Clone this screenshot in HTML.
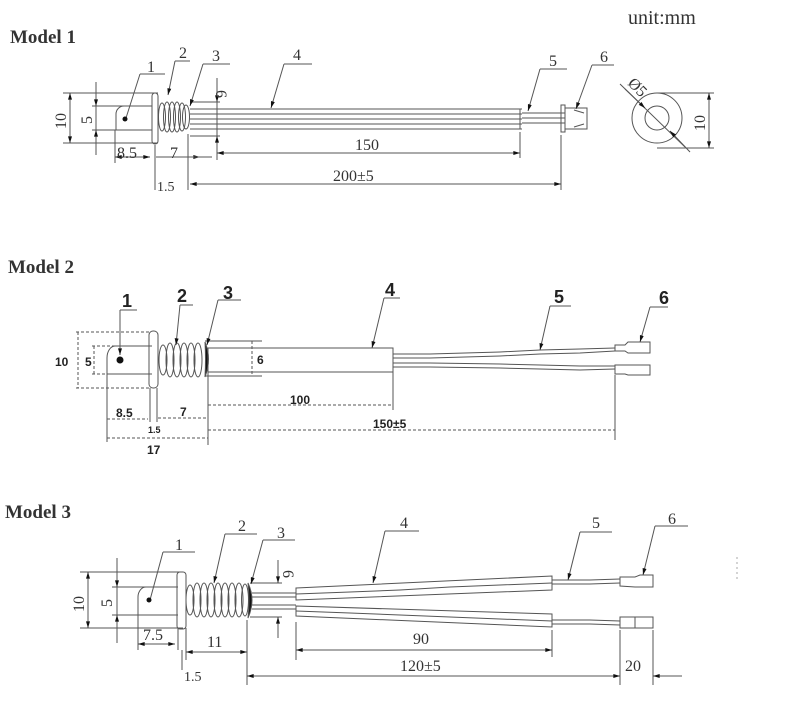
<!DOCTYPE html>
<html><head><meta charset="utf-8"><style>
html,body{margin:0;padding:0;background:#fff;}
svg{display:block}
.t{font-family:"Liberation Serif",serif;fill:#333}
.b{font-family:"Liberation Sans",sans-serif;font-weight:bold;fill:#222}
</style></head><body>
<svg width="801" height="714" viewBox="0 0 801 714" xmlns="http://www.w3.org/2000/svg">
<defs>
<marker id="a" viewBox="0 0 10 6" refX="10" refY="3" markerWidth="10" markerHeight="4" orient="auto-start-reverse" markerUnits="userSpaceOnUse"><path d="M0,0L10,3L0,6z" fill="#111"/></marker>
</defs>
<g stroke="#555" stroke-width="1" fill="none">
<!-- ===== MODEL 1 ===== -->
<line x1="63" y1="93" x2="158" y2="93"/><line x1="63" y1="143" x2="158" y2="143"/>
<line x1="70" y1="93" x2="70" y2="143" marker-start="url(#a)" marker-end="url(#a)"/>
<line x1="92" y1="106" x2="150" y2="106"/><line x1="92" y1="130" x2="150" y2="130"/>
<line x1="96" y1="82" x2="96" y2="155"/>
<line x1="96" y1="85" x2="96" y2="106" marker-end="url(#a)"/><line x1="96" y1="150" x2="96" y2="130" marker-end="url(#a)"/>
<path d="M152,106 H124 A8,8 0 0 0 116,114 V130 H152"/>
<rect x="152" y="93" width="6" height="51" rx="3"/>
<g>
<ellipse cx="162" cy="117" rx="3.5" ry="14"/><ellipse cx="167" cy="117" rx="3.5" ry="15"/><ellipse cx="172" cy="117" rx="3.5" ry="15"/><ellipse cx="177" cy="117" rx="3.5" ry="15"/><ellipse cx="182" cy="117" rx="3.5" ry="14"/><ellipse cx="186" cy="117" rx="3.5" ry="12"/>
</g>
<line x1="190" y1="109" x2="522" y2="109"/><line x1="190" y1="114" x2="522" y2="114"/>
<line x1="190" y1="119" x2="522" y2="119"/><line x1="190" y1="124" x2="522" y2="124"/><line x1="190" y1="129" x2="522" y2="129"/>
<line x1="217" y1="78" x2="217" y2="160"/><line x1="520" y1="109" x2="520" y2="129"/>
<line x1="522" y1="113" x2="565" y2="113"/><line x1="522" y1="118" x2="565" y2="118"/><line x1="522" y1="123" x2="565" y2="123"/>
<rect x="561" y="105" width="4" height="27"/>
<rect x="565" y="108" width="22" height="21"/>
<path d="M574,110 L584,113 M574,127 L584,124"/>
<line x1="190" y1="102" x2="220" y2="102"/><line x1="190" y1="136" x2="220" y2="136"/>
<line x1="217" y1="80" x2="217" y2="102" marker-end="url(#a)"/><line x1="217" y1="158" x2="217" y2="136" marker-end="url(#a)"/>
<line x1="115" y1="130" x2="115" y2="163"/><line x1="155" y1="145" x2="155" y2="190"/><line x1="188" y1="134" x2="188" y2="190"/>
<line x1="520" y1="132" x2="520" y2="158"/><line x1="561" y1="135" x2="561" y2="190"/>
<line x1="115" y1="157" x2="150" y2="157" marker-start="url(#a)" marker-end="url(#a)"/>
<line x1="156" y1="157" x2="200" y2="157" marker-end="url(#a)"/>
<line x1="188" y1="157" x2="212" y2="157"/>
<line x1="217" y1="153" x2="520" y2="153" marker-start="url(#a)" marker-end="url(#a)"/>
<line x1="190" y1="184" x2="561" y2="184" marker-start="url(#a)" marker-end="url(#a)"/>
<circle cx="657" cy="118" r="25"/><circle cx="657" cy="118" r="12"/>
<line x1="620" y1="84" x2="685" y2="147"/>
<line x1="657" y1="93" x2="714" y2="93"/><line x1="657" y1="148" x2="714" y2="148"/>
<line x1="709" y1="93" x2="709" y2="148" marker-start="url(#a)" marker-end="url(#a)"/>
<line x1="625" y1="89" x2="645" y2="108" marker-end="url(#a)"/>
<line x1="690" y1="152" x2="670" y2="131" marker-end="url(#a)"/>
<path d="M140,74 H165"/><line x1="140" y1="74" x2="126" y2="118"/>
<path d="M175,61 H190"/><line x1="175" y1="61" x2="168" y2="95" marker-end="url(#a)"/>
<path d="M203,64 H230"/><line x1="203" y1="64" x2="190" y2="106" marker-end="url(#a)"/>
<path d="M284,64 H312"/><line x1="284" y1="64" x2="271" y2="108" marker-end="url(#a)"/>
<path d="M540,69 H567"/><line x1="540" y1="69" x2="528" y2="111" marker-end="url(#a)"/>
<path d="M592,65 H614"/><line x1="592" y1="65" x2="576" y2="109" marker-end="url(#a)"/>

<!-- ===== MODEL 2 ===== -->
<g stroke-dasharray="3,2">
<path d="M76,332 H150 M76,388 H150 M78,332 V388"/>
<path d="M92,346 H150 M92,374 H150 M94,346 V374"/>
<line x1="252" y1="341" x2="252" y2="376"/>
<line x1="208" y1="405" x2="393" y2="405"/>
<line x1="208" y1="430" x2="615" y2="430"/>
<line x1="107" y1="419" x2="148" y2="419"/>
<line x1="158" y1="418" x2="208" y2="418"/>
<line x1="107" y1="438" x2="208" y2="438"/>
</g>
<path d="M152,346 H115 A8,12 0 0 0 107,358 V374 H152"/>
<rect x="149" y="331" width="9" height="57" rx="4"/>
<g>
<ellipse cx="163" cy="360" rx="4" ry="15"/><ellipse cx="170" cy="360" rx="4" ry="17"/><ellipse cx="177" cy="360" rx="4" ry="17"/><ellipse cx="184" cy="360" rx="4" ry="17"/><ellipse cx="191" cy="360" rx="4" ry="17"/><ellipse cx="198" cy="360" rx="4" ry="17"/>
</g>
<path d="M205,342 Q212,359 205,377 Q206,359 205,342 Z" fill="#111"/>
<path d="M205,341 H262 M205,376 H262"/>
<rect x="208" y="348" width="185" height="24"/>
<path d="M393,354 H430 L500,352 L540,350 L580,349 L615,348"/>
<path d="M393,358 H430 L500,356 L540,354 L580,353 L615,351"/>
<path d="M393,363 H430 L500,364 L540,365 L580,366 L615,366"/>
<path d="M393,367 H430 L500,368 L540,369 L580,370 L615,369"/>
<path d="M615,345 H625 L628,342 H650 V353 H628 L625,351 H615 Z"/>
<path d="M615,365 H625 L628,365 H650 V375 H628 L625,374 H615 Z"/>
<line x1="107" y1="374" x2="107" y2="442"/><line x1="150" y1="388" x2="150" y2="422"/><line x1="157" y1="388" x2="157" y2="422"/>
<line x1="208" y1="372" x2="208" y2="445"/><line x1="393" y1="372" x2="393" y2="410"/><line x1="615" y1="375" x2="615" y2="440"/>
<path d="M120,310 H137"/><line x1="120" y1="310" x2="120" y2="355" marker-end="url(#a)"/>
<path d="M180,305 H193"/><line x1="180" y1="305" x2="176" y2="345" marker-end="url(#a)"/>
<path d="M218,300 H241"/><line x1="218" y1="300" x2="207" y2="345" marker-end="url(#a)"/>
<path d="M384,298 H400"/><line x1="384" y1="298" x2="372" y2="348" marker-end="url(#a)"/>
<path d="M550,306 H571"/><line x1="550" y1="306" x2="540" y2="350" marker-end="url(#a)"/>
<path d="M650,307 H668"/><line x1="650" y1="307" x2="640" y2="342" marker-end="url(#a)"/>

<!-- ===== MODEL 3 ===== -->
<path d="M80,572 H183 M80,628 H183"/>
<line x1="88" y1="572" x2="88" y2="628" marker-start="url(#a)" marker-end="url(#a)"/>
<path d="M112,587 H178 M112,615 H178"/>
<line x1="117" y1="558" x2="117" y2="643"/>
<line x1="117" y1="562" x2="117" y2="587" marker-end="url(#a)"/><line x1="117" y1="640" x2="117" y2="615" marker-end="url(#a)"/>
<path d="M178,587 H146 A8,10 0 0 0 138,597 V615 H178"/>
<rect x="177" y="572" width="9" height="57" rx="3"/>
<g>
<ellipse cx="190" cy="600" rx="4" ry="15"/><ellipse cx="197" cy="600" rx="4" ry="17"/><ellipse cx="204" cy="600" rx="4" ry="17"/><ellipse cx="211" cy="600" rx="4" ry="17"/><ellipse cx="218" cy="600" rx="4" ry="17"/><ellipse cx="225" cy="600" rx="4" ry="17"/><ellipse cx="232" cy="600" rx="4" ry="17"/><ellipse cx="239" cy="600" rx="4" ry="17"/><ellipse cx="245" cy="600" rx="3.5" ry="16"/>
</g>
<path d="M248,583 Q256,600 248,618 Q250,600 248,583 Z" fill="#111"/>
<path d="M252,593 H296 M252,597 H296 M252,605 H296 M252,609 H296"/>
<path d="M296,588 L552,576 V590 L296,600 Z"/>
<path d="M296,594 L350,592 L400,590 L450,587 L500,585 L552,583"/>
<path d="M296,606 L552,614 V627 L296,616 Z"/>
<path d="M296,611 L350,613 L400,615 L450,617 L500,619 L552,621"/>
<path d="M552,580 H590 L620,579 M552,584 H590 L620,583"/>
<path d="M552,620 H590 L620,621 M552,624 H590 L620,625"/>
<path d="M620,577 H635 L640,575 H653 V587 H635 L620,586 Z"/>
<path d="M620,617 H653 V628 H620 Z M635,617 V628"/>
<path d="M250,583 H282 M250,617 H282"/>
<line x1="278" y1="560" x2="278" y2="583" marker-end="url(#a)"/><line x1="278" y1="638" x2="278" y2="617" marker-end="url(#a)"/>
<line x1="138" y1="615" x2="138" y2="650"/><line x1="178" y1="628" x2="178" y2="650"/><line x1="186" y1="628" x2="186" y2="660"/>
<line x1="138" y1="644" x2="175" y2="644" marker-start="url(#a)" marker-end="url(#a)"/>
<line x1="182" y1="650" x2="182" y2="670"/>
<line x1="186" y1="652" x2="247" y2="652" marker-start="url(#a)" marker-end="url(#a)"/>
<line x1="247" y1="620" x2="247" y2="685"/><line x1="296" y1="622" x2="296" y2="660"/>
<line x1="552" y1="630" x2="552" y2="657"/><line x1="620" y1="630" x2="620" y2="685"/><line x1="653" y1="630" x2="653" y2="685"/>
<line x1="296" y1="650" x2="552" y2="650" marker-start="url(#a)" marker-end="url(#a)"/>
<line x1="247" y1="676" x2="620" y2="676" marker-start="url(#a)" marker-end="url(#a)"/>
<line x1="682" y1="676" x2="653" y2="676" marker-end="url(#a)"/>
<path d="M163,552 H195"/><line x1="163" y1="552" x2="150" y2="600"/>
<path d="M225,534 H257"/><line x1="225" y1="534" x2="214" y2="583" marker-end="url(#a)"/>
<path d="M263,540 H295"/><line x1="263" y1="540" x2="251" y2="584" marker-end="url(#a)"/>
<path d="M385,531 H419"/><line x1="385" y1="531" x2="373" y2="583" marker-end="url(#a)"/>
<path d="M580,532 H612"/><line x1="580" y1="532" x2="568" y2="580" marker-end="url(#a)"/>
<path d="M655,526 H688"/><line x1="655" y1="526" x2="643" y2="575" marker-end="url(#a)"/>
<line x1="737" y1="557" x2="737" y2="581" stroke="#aaa" stroke-dasharray="2,3"/>
</g>
<g fill="#111">
<circle cx="125" cy="119" r="2.5"/><circle cx="120" cy="360" r="3.5"/><circle cx="149" cy="600" r="2.5"/>
</g>
<text x="628" y="24" class="t" font-size="20">unit:mm</text>
<text x="10" y="43" class="t" font-size="19" font-weight="bold" fill="#000">Model 1</text>
<text x="8" y="273" class="t" font-size="19" font-weight="bold" fill="#000">Model 2</text>
<text x="5" y="518" class="t" font-size="19" font-weight="bold" fill="#000">Model 3</text>
<g class="t" font-size="16">
<text x="147" y="72">1</text><text x="179" y="58">2</text><text x="212" y="61">3</text><text x="293" y="60">4</text><text x="549" y="66">5</text><text x="600" y="62">6</text>
<text x="355" y="150">150</text><text x="333" y="181">200±5</text>
<text x="117" y="158">8.5</text><text x="170" y="158">7</text><text x="157" y="191" font-size="14">1.5</text>
<text transform="translate(66,129) rotate(-90)">10</text><text transform="translate(92,124) rotate(-90)">5</text>
<text transform="translate(216,90) rotate(90)">6</text>
<text transform="translate(705,131) rotate(-90)">10</text>
<text transform="translate(627,84) rotate(45)">Ø5</text>
<text x="175" y="550">1</text><text x="238" y="531">2</text><text x="277" y="538">3</text><text x="400" y="528">4</text><text x="592" y="528">5</text><text x="668" y="524">6</text>
<text transform="translate(84,612) rotate(-90)">10</text><text transform="translate(112,607) rotate(-90)">5</text>
<text transform="translate(283,570) rotate(90)">6</text>
<text x="143" y="640">7.5</text><text x="207" y="647">11</text><text x="184" y="681" font-size="14">1.5</text>
<text x="413" y="644">90</text><text x="400" y="671">120±5</text><text x="625" y="671">20</text>
</g>
<g class="b">
<text x="122" y="307" font-size="18">1</text><text x="177" y="302" font-size="18">2</text><text x="223" y="299" font-size="18">3</text>
<text x="385" y="296" font-size="18">4</text><text x="554" y="303" font-size="18">5</text><text x="659" y="304" font-size="18">6</text>
<text x="55" y="366" font-size="12">10</text><text x="85" y="366" font-size="12">5</text><text x="257" y="364" font-size="12">6</text>
<text x="290" y="404" font-size="12">100</text><text x="373" y="428" font-size="12">150±5</text>
<text x="116" y="417" font-size="12">8.5</text><text x="180" y="416" font-size="12">7</text>
<text x="148" y="433" font-size="9">1.5</text><text x="147" y="454" font-size="12">17</text>
</g>
</svg>
</body></html>
